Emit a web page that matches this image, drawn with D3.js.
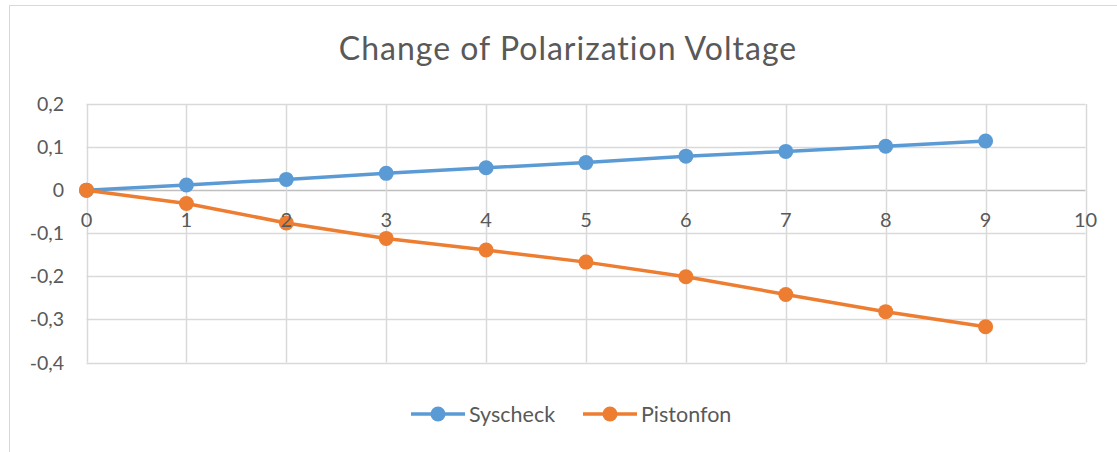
<!DOCTYPE html>
<html>
<head>
<meta charset="utf-8">
<script src="https://cdn.jsdelivr.net/npm/d3@7"></script>
<style>
  html, body { margin: 0; padding: 0; background: #fff; }
  svg { display: block; }
  text { font-family: Lato, "Open Sans", sans-serif; fill: #595959; }
</style>
</head>
<body>
<svg id="chart" width="1117" height="452"></svg>
<script>
const title = "Change of Polarization Voltage";
const xValues = [0, 1, 2, 3, 4, 5, 6, 7, 8, 9];
const syscheck = [0, 0.012, 0.025, 0.039, 0.052, 0.064, 0.079, 0.090, 0.102, 0.114];
const pistonfon = [0, -0.031, -0.076, -0.112, -0.139, -0.167, -0.201, -0.242, -0.282, -0.317];
const xTicks = [0, 1, 2, 3, 4, 5, 6, 7, 8, 9, 10];
const yTicks = [0.2, 0.1, 0, -0.1, -0.2, -0.3, -0.4];
const seriesNames = ["Syscheck", "Pistonfon"];
const colors = ["#5B9BD5", "#ED7D31"];

const svg = d3.select("#chart");
const W = 1117, H = 452;

// chart border
svg.append("rect").attr("x", 9.5).attr("y", 5.5).attr("width", W + 10).attr("height", H + 10)
  .attr("fill", "none").attr("stroke", "#D9D9D9").attr("stroke-width", 1);

const x = d3.scaleLinear().domain([0, 10]).range([86.5, 1085.5]);
const y = d3.scaleLinear().domain([-0.4, 0.2]).range([362.5, 104]);

const fmt = v => (Math.abs(v) < 1e-9 ? "0" : d3.format(".1f")(v).replace(".", ",").replace("−", "-"));

// horizontal gridlines
svg.append("g").selectAll("line").data(yTicks).join("line")
  .attr("x1", x(0)).attr("x2", x(10))
  .attr("y1", d => Math.round(y(d)) + 0.5).attr("y2", d => Math.round(y(d)) + 0.5)
  .attr("stroke", d => d === 0 ? "#BFBFBF" : "#D9D9D9").attr("stroke-width", 1.5);

// vertical gridlines
svg.append("g").selectAll("line").data(xTicks).join("line")
  .attr("x1", d => Math.round(x(d)) + 0.5).attr("x2", d => Math.round(x(d)) + 0.5)
  .attr("y1", y(0.2)).attr("y2", y(-0.4))
  .attr("stroke", "#D9D9D9").attr("stroke-width", 1.5);

// series
const series = [syscheck, pistonfon];
const line = d3.line().x((d, i) => x(xValues[i])).y(d => y(d));
series.forEach((s, k) => {
  svg.append("path").datum(s).attr("d", line)
    .attr("fill", "none").attr("stroke", colors[k]).attr("stroke-width", 3.5)
    .attr("stroke-linejoin", "round").attr("stroke-linecap", "round");
  svg.append("g").selectAll("circle").data(s).join("circle")
    .attr("cx", (d, i) => x(xValues[i])).attr("cy", d => y(d)).attr("r", 7.5)
    .attr("fill", colors[k]);
});

// y labels
svg.append("g").selectAll("text").data(yTicks).join("text")
  .attr("x", 64).attr("y", d => y(d)).attr("dy", "0.36em")
  .attr("text-anchor", "end").attr("font-size", 19.5)
  .text(d => fmt(d));

// x labels (drawn over the series, as in the reference)
svg.append("g").selectAll("text").data(xTicks).join("text")
  .attr("x", d => x(d)).attr("y", y(0) + 30).attr("dy", "0.36em")
  .attr("text-anchor", "middle").attr("font-size", 20)
  .text(d => d);

// title
svg.append("text").attr("x", 568).attr("y", 59.5).attr("text-anchor", "middle")
  .attr("font-size", 32).style("font-weight", 400).style("letter-spacing", "1px").text(title);

// legend
const legendX = [411, 583];
seriesNames.forEach((n, k) => {
  const g = svg.append("g").attr("transform", `translate(${legendX[k]},414)`);
  g.append("line").attr("x1", 0).attr("x2", 54).attr("y1", 0).attr("y2", 0)
    .attr("stroke", colors[k]).attr("stroke-width", 3.5);
  g.append("circle").attr("cx", 27).attr("cy", 0).attr("r", 7.5).attr("fill", colors[k]);
  g.append("text").attr("x", 58).attr("y", 0).attr("dy", "0.36em").attr("font-size", 21.5).text(n);
});
</script>
</body>
</html>
